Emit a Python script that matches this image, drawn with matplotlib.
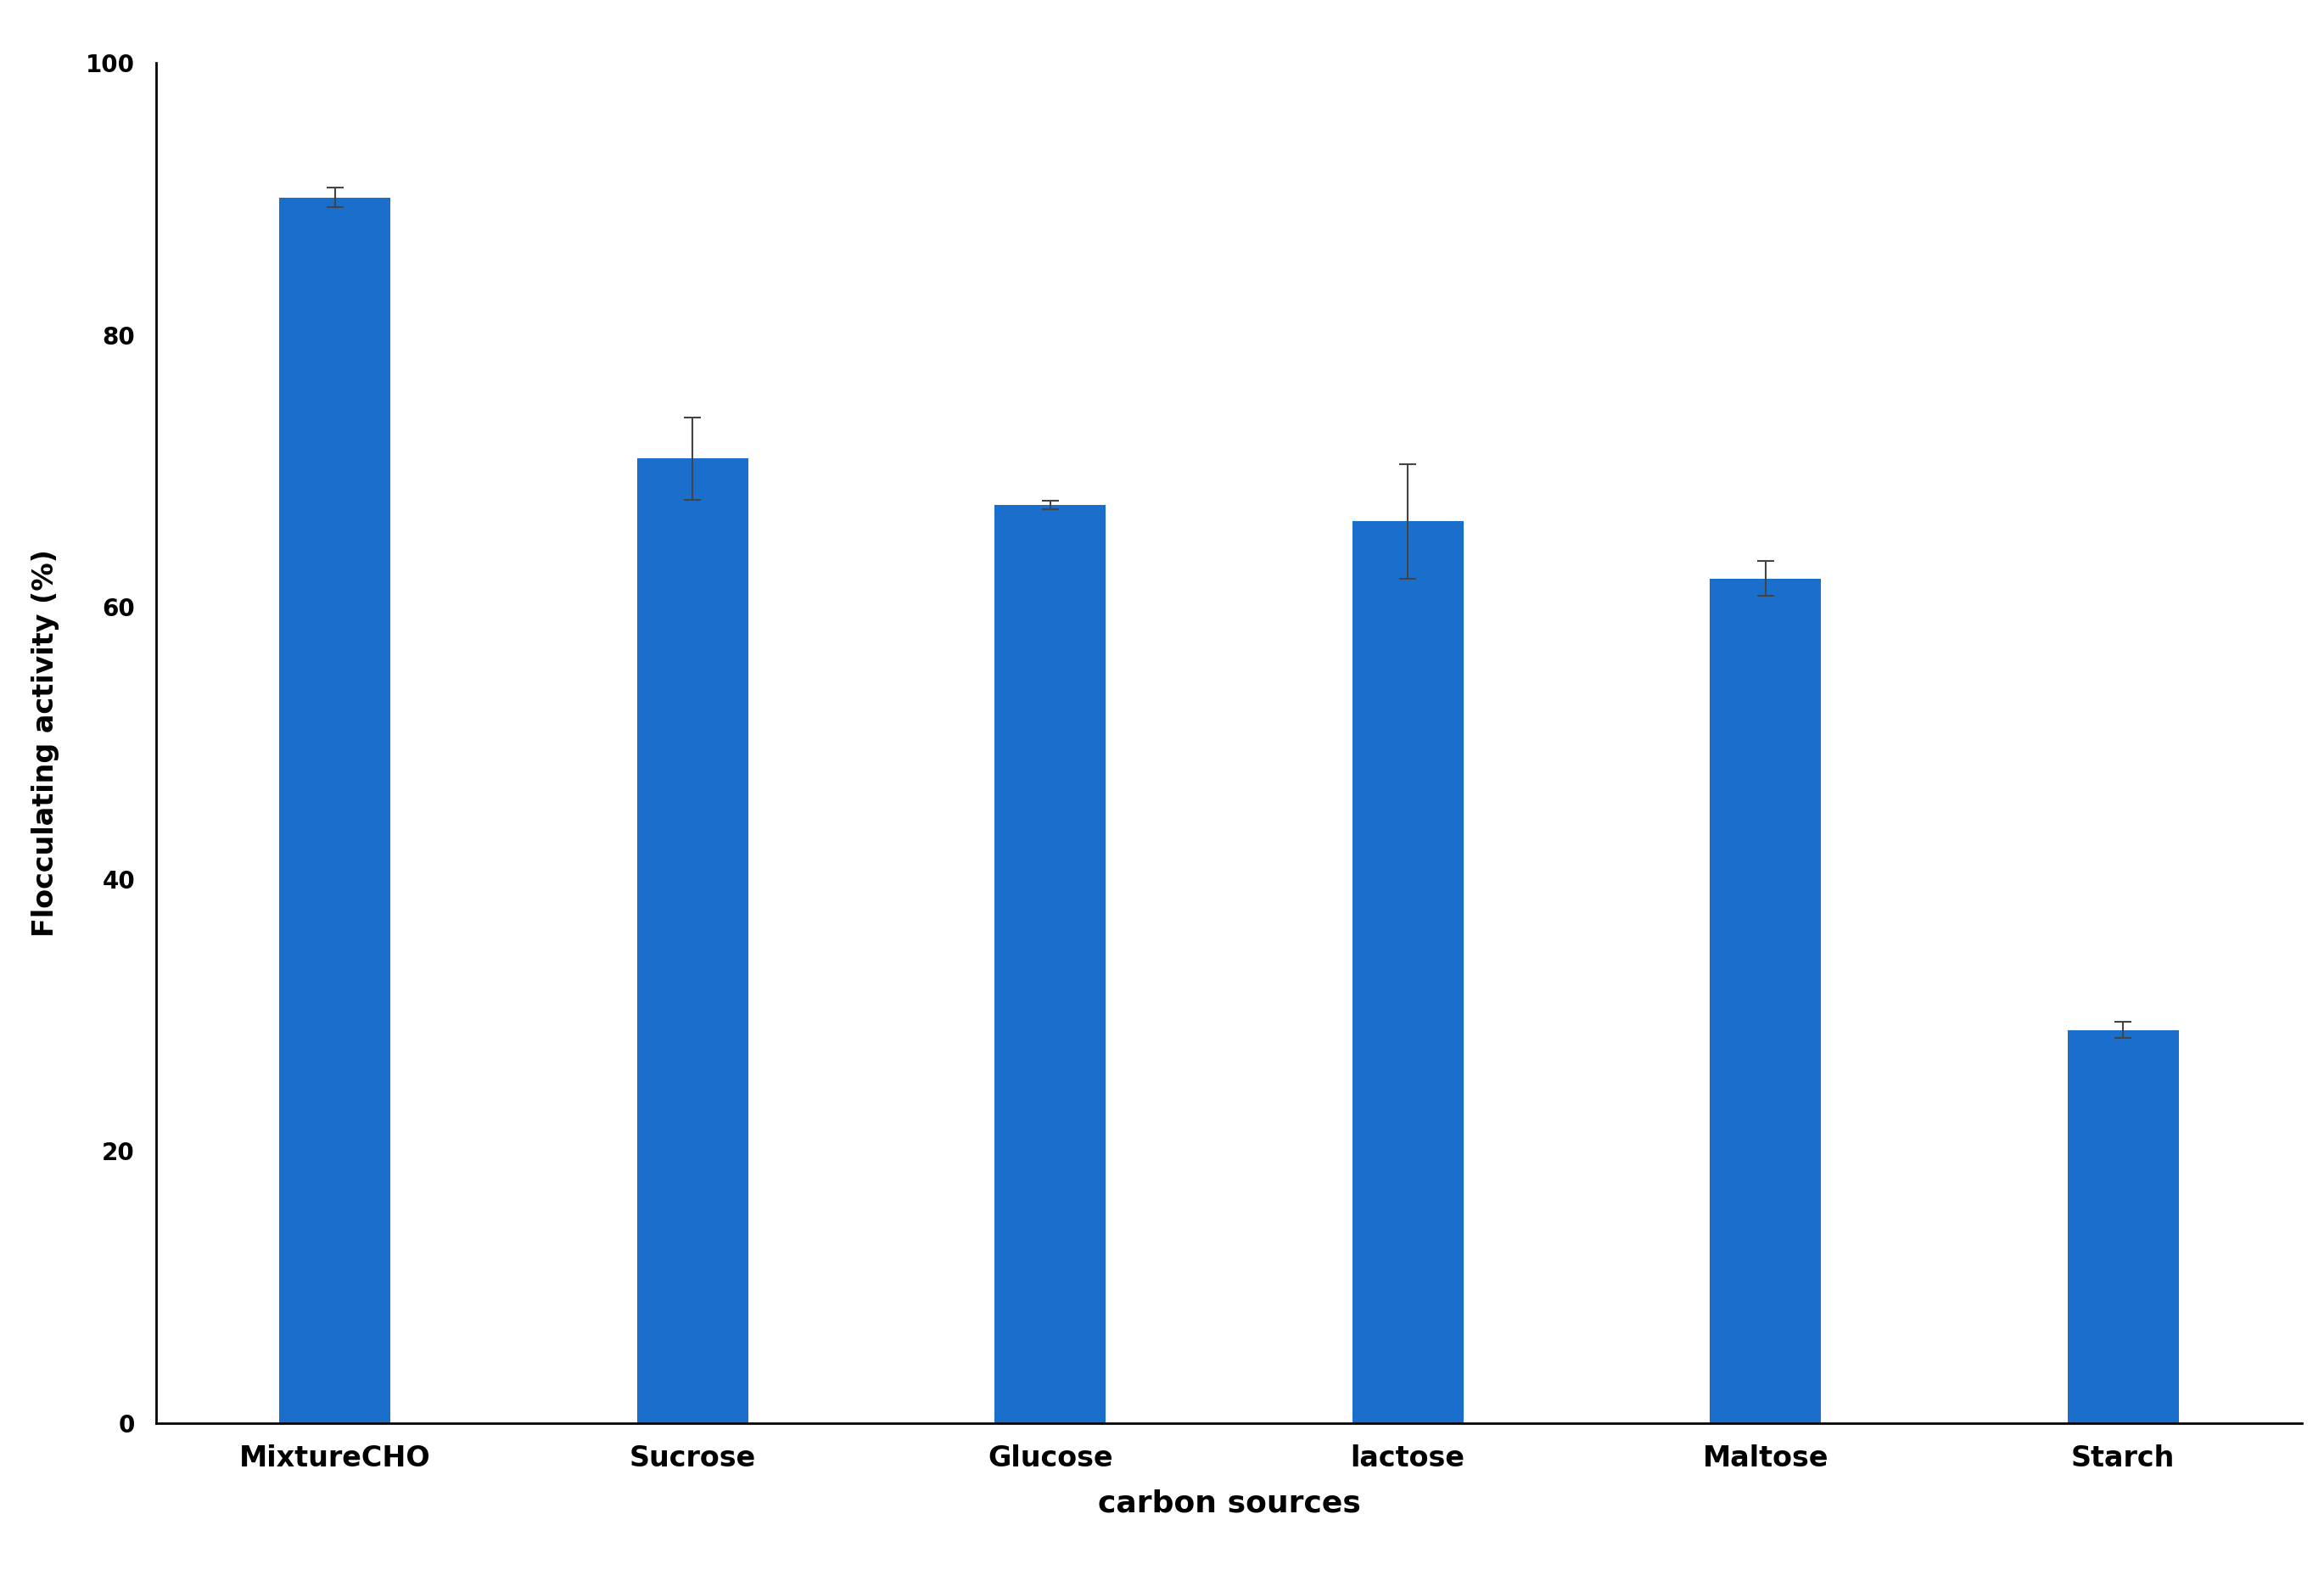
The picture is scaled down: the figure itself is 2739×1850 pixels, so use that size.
import matplotlib
matplotlib.use("Agg")
import matplotlib.pyplot as plt

sources = ["MixtureCHO", "Sucrose", "Glucose", "lactose", "Maltose", "Starch"]
activity = [90.1, 70.9, 67.5, 66.3, 62.1, 28.9]
errors = [0.7, 3.0, 0.3, 4.2, 1.3, 0.6]

fig = plt.figure(figsize=(27.39, 18.5), dpi=100)
ax = fig.add_axes([184 / 2739, 1 - 1677 / 1850, (2713 - 184) / 2739, (1677 - 74) / 1850])

x = range(len(sources))
ax.bar(x, activity, width=0.31, color="#1a6fcc",
       yerr=errors, capsize=7, error_kw=dict(ecolor="#444444", elinewidth=1.5, capthick=1.5))

ax.set_xlim(-0.5, 5.5)
ax.set_ylim(0, 100)
ax.set_yticks([0, 20, 40, 60, 80, 100])
ax.set_xticks(list(x))
ax.set_xticklabels(sources, fontsize=24, fontweight="bold")
for lab in ax.get_yticklabels():
    lab.set_fontsize(20)
    lab.set_fontweight("bold")
ax.tick_params(length=0, pad=18)
ax.spines["top"].set_visible(False)
ax.spines["right"].set_visible(False)
ax.spines["left"].set_linewidth(2)
ax.spines["bottom"].set_linewidth(2)

ax.set_xlabel("carbon sources", fontsize=26, fontweight="bold", labelpad=14)
ax.set_ylabel("Flocculating activity (%)", fontsize=24, fontweight="semibold", labelpad=22)

fig.savefig("out.png", dpi=100)
